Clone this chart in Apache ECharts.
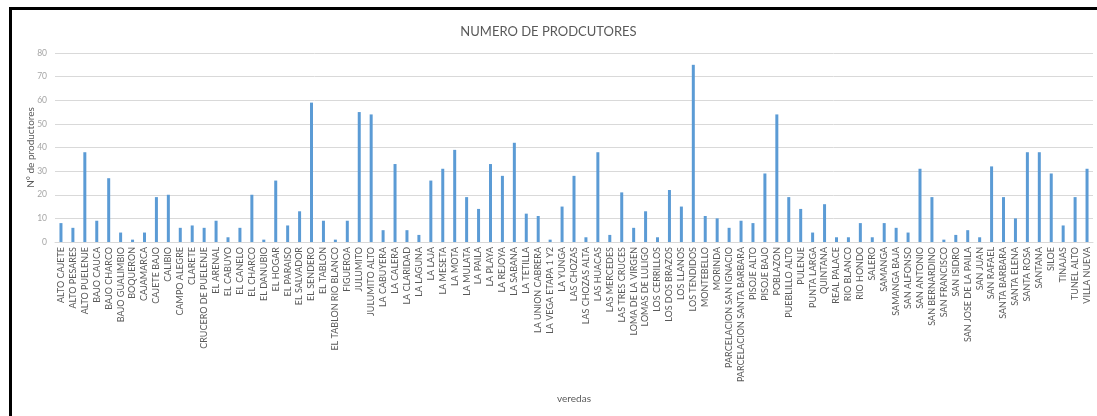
<!DOCTYPE html>
<html>
<head>
<meta charset="utf-8">
<script src="https://cdn.jsdelivr.net/npm/echarts@6/dist/echarts.min.js"></script>
<style>
  html, body { margin: 0; padding: 0; background: #fff; }
  #frame { position: absolute; left: 9px; top: 7px; width: 1088px; height: 409px;
           border-left: 3px solid #000; border-top: 3px solid #000; box-sizing: border-box; }
  #chart { position: absolute; left: 0; top: 0; width: 1097px; height: 416px; }
</style>
</head>
<body>
<div id="frame"></div>
<div id="chart"></div>
<script>
var veredas = [
  'ALTO CAJETE', 'ALTO PESARES', 'ALTO PUELENJE', 'BAJO CAUCA', 'BAJO CHARCO',
  'BAJO GUALIMBIO', 'BOQUERON', 'CAJAMARCA', 'CAJETE BAJO', 'CALIBIO',
  'CAMPO ALEGRE', 'CLARETE', 'CRUCERO DE PUELENJE', 'EL ARENAL', 'EL CABUYO',
  'EL CANELO', 'EL CHARCO', 'EL DANUBIO', 'EL HOGAR', 'EL PARAISO',
  'EL SALVADOR', 'EL SENDERO', 'EL TABLON', 'EL TABLON RIO BLANCO', 'FIGUEROA',
  'JULUMITO', 'JULUMITO ALTO', 'LA CABUYERA', 'LA CALERA', 'LA CLARIDAD',
  'LA LAGUNA', 'LA LAJA', 'LA MESETA', 'LA MOTA', 'LA MULATA',
  'LA PAILA', 'LA PLAYA', 'LA REJOYA', 'LA SABANA', 'LA TETILLA',
  'LA UNION CABRERA', 'LA VEGA ETAPA 1 Y2', 'LA YUNGA', 'LAS CHOZAS', 'LAS CHOZAS ALTA',
  'LAS HUACAS', 'LAS MERCEDES', 'LAS TRES CRUCES', 'LOMA DE LA VIRGEN', 'LOMAS DE LULIGO',
  'LOS CERRILLOS', 'LOS DOS BRAZOS', 'LOS LLANOS', 'LOS TENDIDOS', 'MONTEBELLO',
  'MORINDA', 'PARCELACION SAN IGNACIO', 'PARCELACION SANTA BARBARA', 'PISOJE ALTO', 'PISOJE BAJO',
  'POBLAZON', 'PUEBLILLO ALTO', 'PULENJE', 'PUNTA LARGA', 'QUINTANA',
  'REAL PALACE', 'RIO BLANCO', 'RIO HONDO', 'SALERO', 'SAMANGA',
  'SAMANGA BAJA', 'SAN ALFONSO', 'SAN ANTONIO', 'SAN BERNARDINO', 'SAN FRANCISCO',
  'SAN ISIDRO', 'SAN JOSE DE LA PAILA', 'SAN JUAN', 'SAN RAFAEL', 'SANTA BARBARA',
  'SANTA ELENA', 'SANTA ROSA', 'SANTANA', 'SILOE', 'TINAJAS',
  'TUNEL ALTO', 'VILLA NUEVA'
]

var productores = [
  8, 6, 38, 9, 27,
  4, 1, 4, 19, 20,
  6, 7, 6, 9, 2,
  6, 20, 1, 26, 7,
  13, 59, 9, 1, 9,
  55, 54, 5, 33, 5,
  3, 26, 31, 39, 19,
  14, 33, 28, 42, 12,
  11, 1, 15, 28, 2,
  38, 3, 21, 6, 13,
  2, 22, 15, 75, 11,
  10, 6, 9, 8, 29,
  54, 19, 14, 4, 16,
  2, 2, 8, 2, 8,
  6, 4, 31, 19, 1,
  3, 5, 2, 32, 19,
  10, 38, 38, 29, 7,
  19, 31
]

var yTicks = [0, 10, 20, 30, 40, 50, 60, 70, 80]

var chart = echarts.init(document.getElementById('chart'), null, { renderer: 'canvas' })

var option = {
  backgroundColor: 'transparent',
  animation: false,
  textStyle: { fontFamily: 'Lato' },
  title: {
    text: 'NUMERO DE PRODCUTORES',
    left: 'center',
    top: 20,
    textStyle: { fontFamily: 'Lato', fontSize: 13, fontWeight: 'normal', color: '#595959' }
  },
  grid: { left: 55, right: 4, top: 53, bottom: 174 },
  xAxis: {
    type: 'category',
    data: veredas,
    name: 'veredas',
    nameLocation: 'middle',
    nameGap: 152,
    nameTextStyle: { fontFamily: 'Lato', fontSize: 10, color: '#595959' },
    axisLine: { lineStyle: { color: '#d9d9d9' } },
    axisTick: { show: false },
    axisLabel: {
      interval: 0,
      rotate: 90,
      fontFamily: 'Lato',
      fontSize: 9,
      color: '#595959',
      margin: 5
    }
  },
  yAxis: {
    type: 'value',
    min: yTicks[0],
    max: yTicks[yTicks.length - 1],
    interval: 10,
    name: 'N° de productores',
    nameLocation: 'middle',
    nameGap: 19,
    nameMoveOverlap: false,
    nameTextStyle: { fontFamily: 'Lato', fontSize: 10, color: '#595959' },
    axisLine: { show: false },
    axisTick: { show: false },
    axisLabel: { fontFamily: 'Lato', fontSize: 8.5, color: '#a6a6a6', margin: 8 },
    splitLine: { lineStyle: { color: '#d9d9d9', width: 1 } }
  },
  series: [{
    type: 'bar',
    data: productores,
    barWidth: 3,
    itemStyle: { color: '#5b9bd5' }
  }]
}

chart.setOption(option)
</script>
</body>
</html>
